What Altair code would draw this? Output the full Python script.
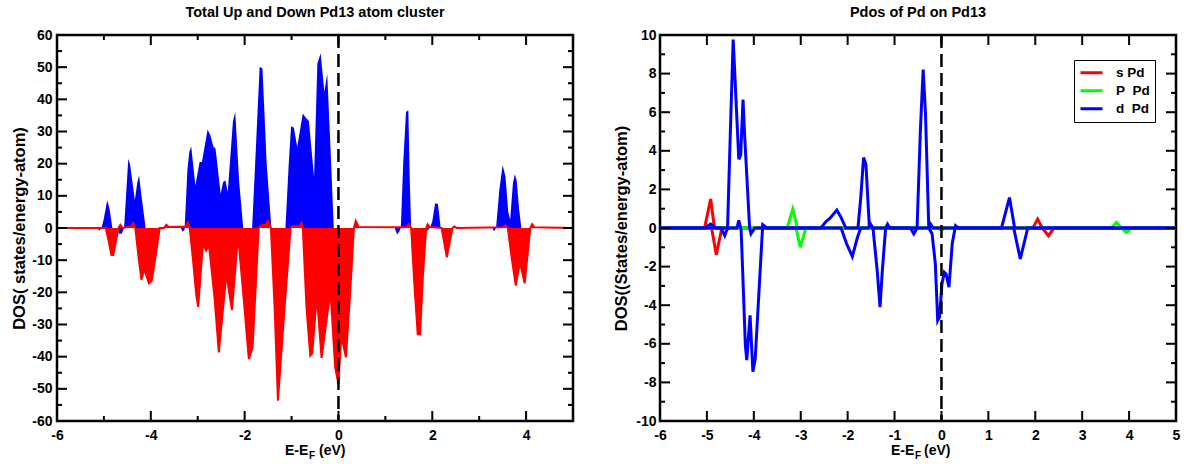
import altair as alt
import pandas as pd

# ---------------- data: left panel (total DOS, spin up / spin down) ----------------
UP_X = [-6.0, -5.15, -5.10, -5.05, -5.00, -4.93, -4.88, -4.82, -4.72, -4.68, -4.62, -4.57,
        -4.52, -4.48, -4.44, -4.34, -4.29, -4.25, -4.20, -4.11, -3.36, -3.32, -3.28, -3.22,
        -3.18, -3.14, -3.05, -2.96, -2.91, -2.79, -2.73, -2.67, -2.62, -2.51, -2.46, -2.41,
        -2.36, -2.25, -2.20, -2.12, -2.03, -1.84, -1.76, -1.68, -1.62, -1.53, -1.43, -1.13,
        -1.06, -1.01, -0.95, -0.88, -0.76, -0.71, -0.63, -0.52, -0.45, -0.38, -0.30, -0.24,
        -0.17, -0.10, 1.20, 1.25, 1.30, 1.33, 1.38, 1.44, 1.49, 1.52, 1.55, 1.83, 1.88, 1.95,
        2.00, 2.06, 2.12, 2.18, 3.28, 3.32, 3.36, 3.43, 3.50, 3.56, 3.62, 3.66, 3.72, 3.76,
        3.80, 3.85, 3.90, 5.0]
UP_Y = [0, 0, -0.8, 0, 3, 8.6, 6, 0, 0, -1.8, -1.8, 0,
        12, 21.5, 19.5, 8.6, 14, 16.4, 10, 0, 0, -1.2, -0.5, 18,
        23.6, 25.4, 13.2, 20.5, 20.5, 30.6, 28.8, 25.4, 24.6, 10.6, 14.3, 14.8,
        11.2, 33, 36.1, 15, 0, 0, 25, 50.1, 49.6, 20, 0, 0,
        20, 31.6, 31.2, 25.2, 35.6, 34.5, 33.3, 15.8, 51.1, 54.3, 42.3, 48,
        25, 0, 0, -2, -1, 0, 20, 36.1, 36.6, 15, 0, 0, -1, 0,
        2, 7.7, 7.5, 0, 0, -1, 0, 12, 19.5, 16, 5, 2.6, 14, 16.7,
        14.8, 6, 0, 0]

DN_X = [-6.0, -4.96, -4.90, -4.84, -4.80, -4.69, -4.65, -4.60, -4.42, -4.38, -4.33, -4.27,
        -4.20, -4.14, -4.04, -3.98, -3.90, -3.81, -3.72, -3.67, -3.62, -3.25, -3.21, -3.17,
        -3.10, -3.03, -2.99, -2.89, -2.82, -2.76, -2.64, -2.55, -2.39, -2.27, -2.14, -2.02,
        -1.91, -1.83, -1.70, -1.66, -1.55, -1.50, -1.44, -1.36, -1.29, -1.15, -1.02, -0.98,
        -0.84, -0.79, -0.76, -0.68, -0.60, -0.56, -0.46, -0.36, -0.17, -0.07, 0.0, 0.06,
        0.16, 0.25, 0.33, 0.37, 0.43, 1.45, 1.50, 1.55, 1.62, 1.69, 1.74, 1.80, 1.87, 1.90,
        1.95, 2.20, 2.31, 2.43, 2.47, 2.52, 3.50, 3.56, 3.61, 3.70, 3.78, 3.87, 3.97, 4.09,
        4.13, 4.18, 5.0]
DN_Y = [0, 0, -4, -8.4, -8.4, 0, 1.0, 0, 0.5, 1.5, 0, -8,
        -16.1, -12.7, -17.2, -16.4, -9, 0, 0, 1.0, 0.3, 0.5, 1.8, 0,
        -10, -21, -24.5, -4.9, -7.0, -5.2, -22, -38.7, -14.3, -25.5, -2.4, -22,
        -40.8, -37.1, 0, 0.8, 1.0, 2.2, 0, -25, -53.7, -25, 0, 0.6,
        0.5, 1.6, 0, -25, -39.7, -39, -21, -40.4, -19.5, -43.4, -48.5, -33.5,
        -40.2, -20, 0, 2.2, 0.3, 0.2, 1.2, 0, -18, -33, -33, -15, 0, 1.2,
        0.3, 0, -9.1, 0, 0.5, 0, 0.2, 0.8, 0, -10, -17.9, -10.6, -17.2, 0,
        1.2, 0.2, 0]

# ---------------- data: right panel (projected DOS, up / down traces) ----------------
S_UP_X = [-6.0, -5.05, -4.92, -4.84, 1.95, 2.05, 2.15, 5.0]
S_UP_Y = [0, 0, 1.5, 0, 0, 0.46, 0, 0]
S_DN_X = [-6.0, -4.90, -4.80, -4.68, 2.15, 2.28, 2.40, 5.0]
S_DN_Y = [0, 0, -1.38, 0, 0, -0.40, 0, 0]

P_UP_X = [-6.0, -3.29, -3.17, -3.07, 3.62, 3.73, 3.84, 5.0]
P_UP_Y = [0, 0, 0.98, 0, 0, 0.29, 0, 0]
P_DN_X = [-6.0, -3.10, -3.01, -2.89, -0.10, 0.0, 0.10, 3.84, 3.94, 4.05, 5.0]
P_DN_Y = [0, 0, -1.0, 0, 0, -0.1, 0, 0, -0.23, 0, 0]

D_UP_X = [-6.0, -5.05, -4.92, -4.80, -4.56, -4.50, -4.44, -4.32, -4.28, -4.23, -4.20, -4.09,
          -4.06, -3.98, -2.57, -2.46, -2.37, -2.23, -2.14, -2.04, -1.78, -1.72, -1.66, -1.61,
          -1.54, -1.48, -0.66, -0.59, -0.52, -0.45, -0.39, -0.34, -0.27, -0.23, -0.18, 1.28,
          1.45, 1.56, 5.0]
D_UP_Y = [0, 0, 0.2, 0, 0, 5, 9.76, 3.56, 3.78, 6.66, 5.0, 0,
          -0.3, 0, 0, 0.34, 0.52, 0.93, 0.55, 0, 0, 1.58, 3.65, 3.3,
          0.2, 0, 0, -0.31, 0, 5.0, 8.21, 5.9, 0, 0.2, 0, 0,
          1.58, 0, 0]
D_DN_X = [-6.0, -4.70, -4.62, -4.56, -4.36, -4.32, -4.27, -4.18, -4.15, -4.08, -4.02, -3.97,
          -3.81, -3.72, -2.14, -2.02, -1.90, -1.79, -1.72, -1.56, -1.52, -1.46, -1.37, -1.31,
          -1.26, -1.19, -1.15, -1.10, -0.27, -0.20, -0.13, -0.08, -0.04, 0.01, 0.06, 0.10,
          0.16, 0.23, 0.30, 0.36, 1.54, 1.68, 1.84, 5.0]
D_DN_Y = [0, 0, -0.4, 0, 0, 0.4, -0.1, -6.08, -6.85, -4.53, -7.45, -6.78,
          0.17, 0, 0, -0.83, -1.48, -0.48, 0, 0, 0.24, 0, -2.2, -4.1,
          -2.2, 0, 0.2, 0, 0, -0.3, -1.86, -4.79, -4.6, -2.9, -2.3, -2.4,
          -3.07, -0.8, 0.12, 0, 0, -1.6, 0, 0]

ORBITALS = ["s Pd", "P\u00a0\u00a0Pd", "d\u00a0\u00a0Pd"]
ORB_COLORS = ["#ff0000", "#00ff00", "#0000ff"]

LEFT_XTICKS = [-6, -4, -2, 0, 2, 4]
LEFT_XMINOR = [-5, -3, -1, 1, 3]
LEFT_YTICKS = list(range(-60, 61, 10))
LEFT_YMINOR = list(range(-55, 60, 10))
RIGHT_XTICKS = list(range(-6, 6))
RIGHT_YTICKS = list(range(-10, 11, 2))
RIGHT_YMINOR = list(range(-9, 10, 2))

TITLE_L = "Total Up and Down Pd13 atom cluster"
TITLE_R = "Pdos of Pd on Pd13"
YTITLE_L = "DOS( states/energy-atom)"
YTITLE_R = "DOS((States/energy-atom)"

# ---------------- styling ----------------
W, H = 516, 386
FONT = "Liberation Sans"
MAJ, MIN = 10, 5
MINUS_FIX = "replace(datum.label, '\u2212', '-')"


def tick_layers(xs_major, xs_minor, ys_major, ys_minor, xsc, ysc, xax, yax):
    layers = []
    for vals, L in ((xs_major, MAJ), (xs_minor, MIN)):
        if not vals:
            continue
        d = pd.DataFrame({"v": vals})
        for y0, y1 in ((H, H - L), (0, L)):
            layers.append(
                alt.Chart(d).mark_rule(color="black", strokeWidth=2).encode(
                    x=alt.X("v:Q", scale=xsc, axis=xax),
                    y=alt.value(y0), y2=alt.value(y1)))
    for vals, L in ((ys_major, MAJ), (ys_minor, MIN)):
        if not vals:
            continue
        d = pd.DataFrame({"v": vals})
        for x0, x1 in ((0, L), (W, W - L)):
            layers.append(
                alt.Chart(d).mark_rule(color="black", strokeWidth=2).encode(
                    y=alt.Y("v:Q", scale=ysc, axis=yax),
                    x=alt.value(x0), x2=alt.value(x1)))
    return layers


def xtitle_layers(x0, x1, x2):
    parts = [("E-E", x0, 420, 14), ("F", x1, 424, 10), ("(eV)", x2, 420, 14)]
    out = []
    for txt, px, py, fs in parts:
        out.append(
            alt.Chart(pd.DataFrame({"t": [txt]})).mark_text(
                font=FONT, fontWeight="bold", fontSize=fs, align="left",
                baseline="alphabetic", color="black").encode(
                text="t:N", x=alt.value(px), y=alt.value(py)))
    return out


# ---------------- left panel ----------------
xs_l = alt.Scale(domain=[-6, 5], nice=False, zero=False)
ys_l = alt.Scale(domain=[-60, 60], nice=False, zero=False)

up_df = pd.DataFrame({"x": UP_X, "y": UP_Y})
dn_df = pd.DataFrame({"x": DN_X, "y": DN_Y})

x_axis_l = alt.Axis(values=LEFT_XTICKS, ticks=False, domain=False, grid=False,
                    labelPadding=7, labelFlush=False, labelExpr=MINUS_FIX, title=None)
y_axis_l = alt.Axis(values=LEFT_YTICKS, ticks=False, domain=False, grid=False,
                    labelPadding=5, labelFlush=False, labelExpr=MINUS_FIX, title=YTITLE_L,
                    titleX=-38, titleY=H / 2, titleBaseline="middle")

up_area = alt.Chart(up_df).mark_area(color="#0000ff").encode(
    x=alt.X("x:Q", scale=xs_l, axis=x_axis_l),
    y=alt.Y("y:Q", scale=ys_l, axis=y_axis_l),
    y2=alt.datum(0))
dn_area = alt.Chart(dn_df).mark_area(color="#ff0000").encode(
    x=alt.X("x:Q", scale=xs_l, axis=x_axis_l),
    y=alt.Y("y:Q", scale=ys_l, axis=y_axis_l), y2=alt.datum(0))
dn_line = alt.Chart(dn_df).mark_line(color="#ff0000", strokeWidth=2).encode(
    x=alt.X("x:Q", scale=xs_l, axis=x_axis_l),
    y=alt.Y("y:Q", scale=ys_l, axis=y_axis_l))
fermi_l = alt.Chart(pd.DataFrame({"x": [0]})).mark_rule(
    color="black", strokeWidth=2.5, strokeDash=[13, 6]).encode(
    x=alt.X("x:Q", scale=xs_l, axis=x_axis_l))

left = alt.layer(
    up_area, dn_area, dn_line, fermi_l,
    *tick_layers(LEFT_XTICKS, LEFT_XMINOR, LEFT_YTICKS, LEFT_YMINOR, xs_l, ys_l,
                 x_axis_l, y_axis_l),
    *xtitle_layers(228, 252, 262),
).properties(
    width=W, height=H,
    title=alt.Title(TITLE_L, font=FONT, fontSize=14.5, fontWeight="bold",
                    frame="group", anchor="middle", offset=-3, baseline="alphabetic"))

# ---------------- right panel ----------------
xs_r = alt.Scale(domain=[-6, 5], nice=False, zero=False)
ys_r = alt.Scale(domain=[-10, 10], nice=False, zero=False)
color_scale = alt.Scale(domain=ORBITALS, range=ORB_COLORS)

x_axis_r = alt.Axis(values=RIGHT_XTICKS, ticks=False, domain=False, grid=False,
                    labelPadding=7, labelFlush=False, labelExpr=MINUS_FIX, title=None)
y_axis_r = alt.Axis(values=RIGHT_YTICKS, ticks=False, domain=False, grid=False,
                    labelPadding=4, labelFlush=False, labelExpr=MINUS_FIX, title=YTITLE_R,
                    titleX=-39, titleY=H / 2, titleBaseline="middle")

legend = alt.Legend(title=None, orient="none", legendX=1017, legendY=25,
                    strokeColor="black", fillColor="white", padding=5,
                    symbolType="stroke", symbolStrokeWidth=3, symbolSize=484,
                    clipHeight=15.3, rowPadding=2,
                    labelFont=FONT, labelFontSize=13.5, labelFontWeight="bold",
                    labelColor="black", labelOffset=12)


def orb_layer(xs, ys, name):
    df = pd.DataFrame({"x": xs, "y": ys, "orb": name})
    return alt.Chart(df).mark_line(strokeWidth=3).encode(
        x=alt.X("x:Q", scale=xs_r, axis=x_axis_r),
        y=alt.Y("y:Q", scale=ys_r, axis=y_axis_r),
        color=alt.Color("orb:N", scale=color_scale, legend=legend, sort=ORBITALS),
    )


fermi_r = alt.Chart(pd.DataFrame({"x": [0]})).mark_rule(
    color="black", strokeWidth=2.5, strokeDash=[13, 6]).encode(
    x=alt.X("x:Q", scale=xs_r, axis=x_axis_r))

right = alt.layer(
    orb_layer(S_UP_X, S_UP_Y, ORBITALS[0]),
    orb_layer(S_DN_X, S_DN_Y, ORBITALS[0]),
    orb_layer(P_UP_X, P_UP_Y, ORBITALS[1]),
    orb_layer(P_DN_X, P_DN_Y, ORBITALS[1]),
    orb_layer(D_UP_X, D_UP_Y, ORBITALS[2]),
    orb_layer(D_DN_X, D_DN_Y, ORBITALS[2]),
    fermi_r,
    *tick_layers(RIGHT_XTICKS, [], RIGHT_YTICKS, RIGHT_YMINOR, xs_r, ys_r,
                 x_axis_r, y_axis_r),
    *xtitle_layers(231, 255, 264),
).properties(
    width=W, height=H,
    title=alt.Title(TITLE_R, font=FONT, fontSize=14.5, fontWeight="bold",
                    frame="group", anchor="middle", offset=-3, baseline="alphabetic"))

chart = alt.hconcat(left, right, spacing=87, bounds="flush").properties(
    padding={"left": 9, "top": 3, "right": 10, "bottom": 2}
).configure(font=FONT).configure_view(
    stroke="black", strokeWidth=2.5
).configure_axis(
    labelFont=FONT, labelFontSize=14, labelFontWeight="bold", labelColor="black",
    titleFont=FONT, titleFontSize=16.5, titleFontWeight="bold", titleColor="black"
)

chart.save("out.html", embed_options={"renderer": "svg", "actions": False})
